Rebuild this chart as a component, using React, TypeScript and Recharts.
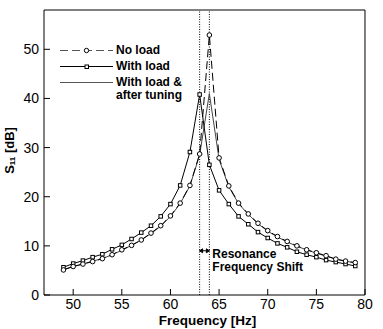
import { LineChart, Line, XAxis, YAxis, ReferenceLine } from 'recharts';

const freqs = [49, 50, 51, 52, 53, 54, 55, 56, 57, 58, 59, 60, 61, 62, 63, 64, 65, 66, 67, 68, 69, 70, 71, 72, 73, 74, 75, 76, 77, 78, 79];
const noLoad = [5.1, 5.8, 6.3, 6.8, 7.4, 8.2, 9.2, 10.1, 11.2, 12.6, 14.1, 16.1, 18.7, 22.3, 28.7, 52.9, 27.9, 22.2, 18.7, 16.5, 14.6, 13.1, 11.9, 10.9, 10.0, 9.2, 8.6, 8.0, 7.3, 6.9, 6.6];
const withLoad = [5.65, 6.4, 7.0, 7.7, 8.3, 9.3, 10.2, 11.4, 12.7, 14.1, 16.0, 18.5, 22.3, 29.1, 40.8, 26.5, 21.3, 18.5, 16.0, 14.4, 12.8, 11.6, 10.5, 9.7, 8.8, 8.2, 7.7, 7.1, 6.7, 6.3, 5.9];
const tuned = [5.2, 5.8, 6.3, 6.9, 7.4, 8.2, 9.1, 10.1, 11.2, 12.5, 14.0, 16.0, 18.6, 22.2, 28.5, 41.0, 27.6, 22.0, 18.6, 16.4, 14.5, 13.0, 11.8, 10.8, 9.9, 9.2, 8.5, 7.9, 7.3, 6.9, 6.5];

const majorX = [50, 55, 60, 65, 70, 75, 80];
const minorX = Array.from({ length: 34 }, (_, i) => 47 + i);
const majorY = [0, 10, 20, 30, 40, 50];
const minorY = Array.from({ length: 30 }, (_, i) => i * 2);

const rows = freqs.map((f, i) => ({ f, noLoad: noLoad[i], withLoad: withLoad[i], tuned: tuned[i] }));

const FONT = '"Liberation Sans", Arial, Helvetica, sans-serif';
const X_DOMAIN: [number, number] = [47, 80];
const Y_DOMAIN: [number, number] = [0, 58];
// axes of size 0 are not drawn at all, so the extra tick-only axes get a hair of size
const HAIR = 0.001;

const YLabel = ({ viewBox }: any) => {
  const cx = viewBox.x + 9;
  const cy = viewBox.y + viewBox.height / 2 - 2;
  return (
    <text
      x={cx}
      y={cy}
      transform={`rotate(-90 ${cx} ${cy})`}
      textAnchor="middle"
      dominantBaseline="central"
      fontFamily={FONT}
      fontWeight="bold"
      fontSize={13}
      fill="#000"
    >
      S<tspan fontSize={8} dy={3}>11</tspan>
      <tspan dy={-3}> [dB]</tspan>
    </text>
  );
};

const XLabel = ({ viewBox }: any) => (
  <text
    x={viewBox.x + viewBox.width / 2 + 3}
    y={viewBox.y + 30}
    textAnchor="middle"
    fontFamily={FONT}
    fontWeight="bold"
    fontSize={13.5}
    fill="#000"
  >
    Frequency [Hz]
  </text>
);

const ShiftArrow = (props: any) => {
  const { x1, y1, x2 } = props;
  return (
    <g stroke="#000" fill="#000" strokeWidth={1}>
      <line x1={x1} y1={y1} x2={x2} y2={y1} />
      <path d={`M${x1},${y1} l3,-2 v4 z`} />
      <path d={`M${x2},${y1} l-3,-2 v4 z`} />
    </g>
  );
};

const ShiftLabel = ({ viewBox }: any) => (
  <text x={viewBox.x + viewBox.width + 3} y={viewBox.y + 7} fontFamily={FONT} fontWeight="bold" fontSize={12} fill="#000">
    <tspan>Resonance</tspan>
    <tspan x={viewBox.x + viewBox.width + 3} dy={13.5}>Frequency Shift</tspan>
  </text>
);

const legendItems = [
  { label: ['No load'], dash: '8 4', color: '#555', marker: 'circle' },
  { label: ['With load'], dash: undefined, color: '#000', marker: 'square' },
  { label: ['With load &', 'after tuning'], dash: undefined, color: '#555', marker: 'none' },
];

const LegendBox = () => (
  <div
    style={{
      position: 'absolute',
      left: 60,
      top: 44,
      fontFamily: FONT,
      fontWeight: 'bold',
      fontSize: 12,
      color: '#000',
      lineHeight: '13px',
    }}
  >
    {legendItems.map((it, i) => (
      <div key={i} style={{ display: 'flex', alignItems: 'flex-start', marginBottom: 3 }}>
        <svg width={56} height={13} style={{ flex: 'none' }}>
          <line x1={0} y1={6.5} x2={53} y2={6.5} stroke={it.color} strokeWidth={1} strokeDasharray={it.dash} />
          {it.marker === 'circle' && <circle cx={26.5} cy={6.5} r={2.2} fill="#fff" stroke="#000" />}
          {it.marker === 'square' && <rect x={25} y={5} width={3.5} height={3.5} fill="#fff" stroke="#000" />}
        </svg>
        <div>
          {it.label.map((l, j) => (
            <div key={j}>{l}</div>
          ))}
        </div>
      </div>
    ))}
  </div>
);

const circleDot = (props: any) => {
  const { cx, cy, index } = props;
  return <circle key={`c${index}`} cx={cx} cy={cy} r={2.3} fill="#fff" stroke="#000" strokeWidth={1} />;
};

const squareDot = (props: any) => {
  const { cx, cy, index } = props;
  return <rect key={`s${index}`} x={cx - 1.75} y={cy - 1.75} width={3.5} height={3.5} fill="#fff" stroke="#000" strokeWidth={1} />;
};

export default function App() {
  const minorProps = { tick: false as const, tickSize: -3, axisLine: false, interval: 0 as const, stroke: '#000' };
  return (
    <div style={{ position: 'absolute', left: 0, top: 0, width: 383, height: 329, background: '#fff' }}>
      <LineChart width={383} height={329} data={rows} margin={{ top: 10, right: 18, bottom: 0, left: 0 }}>
        <XAxis xAxisId="minorB" dataKey="f" type="number" domain={X_DOMAIN} ticks={minorX} height={HAIR} {...minorProps} />
        <XAxis
          xAxisId="main"
          dataKey="f"
          type="number"
          domain={X_DOMAIN}
          ticks={majorX}
          interval={0}
          height={34 - HAIR}
          tickSize={-6}
          tickMargin={10}
          stroke="#000"
          tick={{ fill: '#000', fontSize: 14, fontFamily: FONT }}
          label={{ content: XLabel }}
        />
        <XAxis xAxisId="minorT" orientation="top" dataKey="f" type="number" domain={X_DOMAIN} ticks={minorX} height={HAIR} {...minorProps} />
        <XAxis
          xAxisId="top"
          orientation="top"
          dataKey="f"
          type="number"
          domain={X_DOMAIN}
          ticks={majorX}
          interval={0}
          height={HAIR}
          tick={false}
          tickSize={-6}
          stroke="#000"
        />
        <YAxis yAxisId="minorL" type="number" domain={Y_DOMAIN} ticks={minorY} width={HAIR} {...minorProps} />
        <YAxis
          yAxisId="main"
          type="number"
          domain={Y_DOMAIN}
          ticks={majorY}
          interval={0}
          width={44 - HAIR}
          tickSize={-6}
          tickMargin={11}
          stroke="#000"
          tick={{ fill: '#000', fontSize: 14, fontFamily: FONT }}
          label={{ content: YLabel }}
        />
        <YAxis yAxisId="minorR" orientation="right" type="number" domain={Y_DOMAIN} ticks={minorY} width={HAIR} {...minorProps} />
        <YAxis
          yAxisId="right"
          orientation="right"
          type="number"
          domain={Y_DOMAIN}
          ticks={majorY}
          interval={0}
          width={HAIR}
          tick={false}
          tickSize={-6}
          stroke="#000"
        />
        <ReferenceLine xAxisId="main" yAxisId="main" x={63} stroke="#000" strokeDasharray="1 1.5" />
        <ReferenceLine xAxisId="main" yAxisId="main" x={64} stroke="#000" strokeDasharray="1 1.5" />
        <ReferenceLine
          xAxisId="main"
          yAxisId="main"
          segment={[
            { x: 63, y: 9 },
            { x: 64, y: 9 },
          ]}
          shape={ShiftArrow}
          label={{ content: ShiftLabel }}
        />
        <Line xAxisId="main" yAxisId="main" dataKey="tuned" stroke="#444" strokeWidth={1} dot={false} isAnimationActive={false} />
        <Line xAxisId="main" yAxisId="main" dataKey="withLoad" stroke="#000" strokeWidth={1} dot={squareDot} isAnimationActive={false} />
        <Line
          xAxisId="main"
          yAxisId="main"
          dataKey="noLoad"
          stroke="#000"
          strokeWidth={1}
          strokeDasharray="8 4"
          dot={circleDot}
          isAnimationActive={false}
        />
      </LineChart>
      <LegendBox />
    </div>
  );
}
